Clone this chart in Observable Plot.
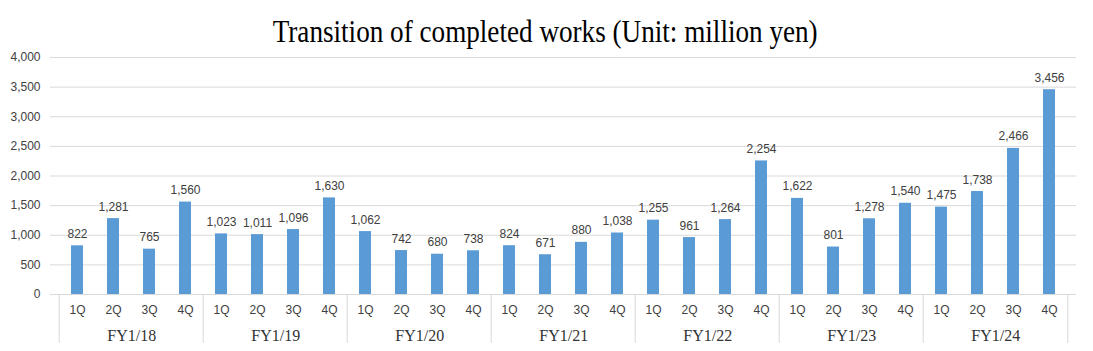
<!DOCTYPE html>
<html>
<head>
<meta charset="utf-8">
<script src="https://cdn.jsdelivr.net/npm/d3@7"></script>
<script src="https://cdn.jsdelivr.net/npm/@observablehq/plot@0.6"></script>
<style>
  html, body { margin: 0; padding: 0; background: #fff; }
  #title { height: 50px; width: 1093px; text-align: center; font-family: "Liberation Serif", "Times New Roman", serif; font-size: 32px; line-height: 50px; color: #000; overflow: visible; white-space: nowrap; }
  #title span { display: inline-block; transform-origin: center; }
</style>
</head>
<body>
<div id="title"><span id="tspan">Transition of completed works (Unit: million yen)</span></div>
<div id="chart"></div>
<script>
const fiscalYears = ["FY1/18", "FY1/19", "FY1/20", "FY1/21", "FY1/22", "FY1/23", "FY1/24"];
const quarters = ["1Q", "2Q", "3Q", "4Q"];
const values = [
  [822, 1281, 765, 1560],
  [1023, 1011, 1096, 1630],
  [1062, 742, 680, 738],
  [824, 671, 880, 1038],
  [1255, 961, 1264, 2254],
  [1622, 801, 1278, 1540],
  [1475, 1738, 2466, 3456]
];
const yTicks = [0, 500, 1000, 1500, 2000, 2500, 3000, 3500, 4000];

const key = (fy, q) => fy + "|" + q;
const data = fiscalYears.flatMap((fy, i) => quarters.map((q, j) => ({fy, q, k: key(fy, q), v: values[i][j]})));
const domain = data.map(d => d.k);

const W = 1093, H = 301, mL = 50, mR = 17, mT = 7, mB = 57;
const step = (W - mL - mR) / domain.length;
const fmt = d3.format(",");
const sans = "Liberation Sans, Arial, sans-serif";

const plot = Plot.plot({
  width: W, height: H,
  marginLeft: mL, marginRight: mR, marginTop: mT, marginBottom: mB,
  style: {fontFamily: sans, fontSize: "12px", color: "#404040", background: "#fff"},
  x: {domain, paddingInner: 0.67, paddingOuter: 0.335, axis: null, label: null},
  y: {domain: [0, 4000], axis: null, label: null},
  marks: [
    Plot.gridY(yTicks, {stroke: "#d9d9d9", strokeOpacity: 1, strokeWidth: 1}),
    Plot.axisY(yTicks, {tickSize: 0, tickPadding: 10, tickFormat: fmt, fill: "#404040", fontSize: 12, label: null}),
    Plot.barY(data, {x: "k", y: "v", fill: "#5B9BD5"}),
    Plot.text(data, {x: "k", y: "v", text: d => fmt(d.v), lineAnchor: "bottom", dy: -8, fill: "#404040", fontSize: 12}),
    Plot.axisX({tickSize: 0, tickPadding: 11, tickFormat: d => d.split("|")[1], fill: "#404040", fontSize: 12, label: null}),
    Plot.text(fiscalYears, {x: d => key(d, "2Q"), dx: step / 2, frameAnchor: "bottom", dy: 41, text: d => d, lineAnchor: "middle", fontFamily: "Liberation Serif, Times New Roman, serif", fontSize: 16, fill: "#333"}),
    Plot.ruleX(fiscalYears, {x: d => key(d, "1Q"), dx: -step / 2, stroke: "#d9d9d9", insetTop: H - mT - mB, insetBottom: -49}),
    Plot.ruleX([fiscalYears[fiscalYears.length - 1]], {x: d => key(d, "4Q"), dx: step / 2, stroke: "#d9d9d9", insetTop: H - mT - mB, insetBottom: -49})
  ]
});
document.getElementById("chart").appendChild(plot);

const ts = document.getElementById("tspan");
const w = ts.getBoundingClientRect().width;
const k = 545 / w;
ts.style.transform = `translate(-1px, 6px) scaleX(${k})`;
</script>
</body>
</html>
